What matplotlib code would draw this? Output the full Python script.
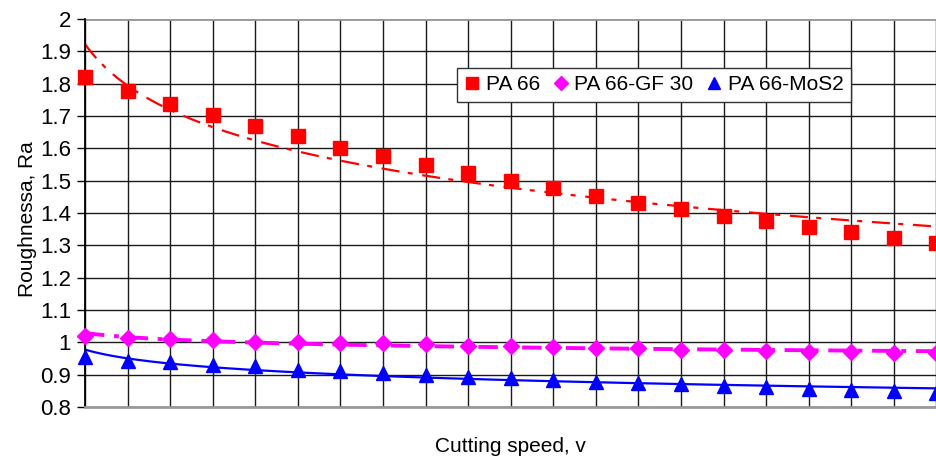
import matplotlib
matplotlib.use('Agg')
import matplotlib.pyplot as plt
import numpy as np
from matplotlib.ticker import FormatStrFormatter

plt.rcParams['font.family'] = ['Liberation Sans', 'DejaVu Sans']
plt.rcParams['lines.scale_dashes'] = False

speed_idx = np.arange(1, 22)
ra_pa66 = [1.820, 1.778, 1.738, 1.702, 1.668, 1.637, 1.601, 1.576, 1.549, 1.523, 1.499,
           1.476, 1.452, 1.432, 1.413, 1.392, 1.376, 1.358, 1.340, 1.324, 1.308]
ra_pa66_gf30 = [1.019, 1.013, 1.010, 1.006, 1.002, 1.000, 0.999, 0.997, 0.994, 0.990, 0.988,
                0.986, 0.982, 0.981, 0.977, 0.976, 0.974, 0.971, 0.969, 0.968, 0.966]
ra_pa66_mos2 = [0.956, 0.943, 0.938, 0.930, 0.926, 0.915, 0.912, 0.906, 0.899, 0.894, 0.890,
                0.885, 0.878, 0.874, 0.870, 0.864, 0.861, 0.857, 0.852, 0.849, 0.843]
labels = ['PA 66', 'PA 66-GF 30', 'PA 66-MoS2']

fig = plt.figure(figsize=(9.37, 4.62), dpi=100)
ax = fig.add_axes([85 / 937, 55 / 462, 851.5 / 937, 388 / 462])

series = [
    (ra_pa66, '#ff0000', 's', 9.4, dict(lw=1.6, dashes=[13, 6, 3.6, 7])),
    (ra_pa66_gf30, '#ff00ff', 'D', 7.8, dict(lw=2.8, dashes=[14, 7, 3.5, 7])),
    (ra_pa66_mos2, '#0000ff', '^', 9.5, dict(lw=1.6, ls='-')),
]

x_fit = np.linspace(1, 21, 300)
for (vals, col, mk, ms, lstyle), lab in zip(series, labels):
    # linea di tendenza logaritmica (come in Excel)
    b, a = np.polyfit(np.log(speed_idx), vals, 1)
    ax.plot(x_fit, a + b * np.log(x_fit), color=col, zorder=2, **lstyle)
    ax.plot(speed_idx, vals, ls='none', marker=mk, ms=ms, color=col, mec=col,
            label=lab, zorder=3, clip_on=False)

ax.set_xlim(1, 21)
ax.set_ylim(0.8, 2.0)
ax.set_xticks(speed_idx)
ax.set_xticklabels([])
ax.set_yticks(np.round(np.arange(0.8, 2.01, 0.1), 1))
ax.yaxis.set_major_formatter(FormatStrFormatter('%g'))
ax.tick_params(axis='x', length=0)
ax.tick_params(axis='y', length=6, width=1, pad=4, labelsize=16, colors='black')
ax.grid(True, color='#1a1a1a', lw=1.0)
ax.set_axisbelow(True)

for s in ['top', 'right']:
    ax.spines[s].set_visible(False)
ax.spines['left'].set_color('black')
ax.spines['left'].set_linewidth(1.3)
ax.spines['bottom'].set_color('#999999')
ax.spines['bottom'].set_linewidth(2)
ax.axhline(2.0, color='#999999', lw=2, zorder=1)

ax.set_xlabel('Cutting speed, v', fontsize=15)
ax.set_ylabel('Roughnessa, Ra', fontsize=15)
ax.xaxis.set_label_coords(0.5, -0.077)
ax.yaxis.set_label_coords(-0.056, 0.485)

leg = ax.legend(loc='center', bbox_to_anchor=(0.668, 0.830), ncol=3, fontsize=15,
                handlelength=0.8, handletextpad=0.25, columnspacing=0.6,
                fancybox=False, framealpha=1, edgecolor='#333333',
                borderpad=0.35, borderaxespad=0, markerscale=0.85)
leg.get_frame().set_linewidth(1.0)

fig.savefig('out.png', dpi=100)
